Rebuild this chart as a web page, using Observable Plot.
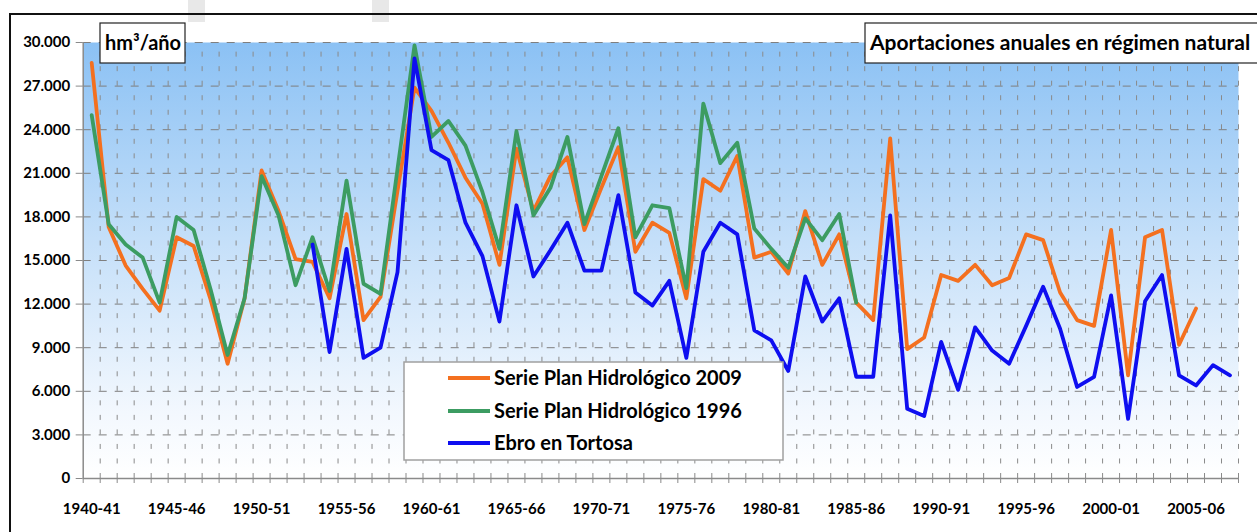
<!DOCTYPE html>
<html>
<head>
<meta charset="utf-8">
<script src="https://cdn.jsdelivr.net/npm/d3@7"></script>
<script src="https://cdn.jsdelivr.net/npm/@observablehq/plot@0.6"></script>
<style>
  html, body { margin: 0; padding: 0; background: #fff; }
  #chart svg { display: block; }
</style>
</head>
<body>
<div id="chart"></div>
<script>
// Hydrological years (categories)
const years = [
  "1940-41","1941-42","1942-43","1943-44","1944-45","1945-46","1946-47","1947-48","1948-49","1949-50",
  "1950-51","1951-52","1952-53","1953-54","1954-55","1955-56","1956-57","1957-58","1958-59","1959-60",
  "1960-61","1961-62","1962-63","1963-64","1964-65","1965-66","1966-67","1967-68","1968-69","1969-70",
  "1970-71","1971-72","1972-73","1973-74","1974-75","1975-76","1976-77","1977-78","1978-79","1979-80",
  "1980-81","1981-82","1982-83","1983-84","1984-85","1985-86","1986-87","1987-88","1988-89","1989-90",
  "1990-91","1991-92","1992-93","1993-94","1994-95","1995-96","1996-97","1997-98","1998-99","1999-00",
  "2000-01","2001-02","2002-03","2003-04","2004-05","2005-06","2006-07","2007-08"
];

// Serie Plan Hidrológico 2009 (hm³/año)
const plan2009 = [
  28600,17300,14650,13050,11550,16600,16000,12300,7900,12400,
  21200,18400,15100,14900,12400,18200,10900,12500,19800,26900,
  25300,23100,20700,18900,14700,22700,18400,20800,22100,17100,
  20000,22800,15600,17600,16900,12400,20600,19800,22200,15200,
  15600,14100,18400,14700,16800,12100,10900,23400,8900,9700,
  14000,13600,14700,13300,13800,16800,16400,12800,10900,10500,
  17100,7100,16600,17100,9200,11700,null,null
];

// Serie Plan Hidrológico 1996 (hm³/año)
const plan1996 = [
  25000,17500,16100,15200,12100,18000,17100,13000,8500,12400,
  20800,18100,13300,16600,12900,20500,13400,12700,21300,29800,
  23500,24600,22900,19700,15800,23900,18100,20000,23500,17500,
  20800,24100,16600,18800,18600,13100,25800,21700,23100,17200,
  15800,14500,17900,16400,18200,12100,null,null,null,null,
  null,null,null,null,null,null,null,null,null,null,
  null,null,null,null,null,null,null,null
];

// Ebro en Tortosa (hm³/año)
const tortosa = [
  null,null,null,null,null,null,null,null,null,null,
  null,null,null,16100,8700,15800,8300,9000,14200,28900,
  22600,21900,17600,15300,10800,18800,13900,15700,17600,14300,
  14300,19500,12800,11900,13600,8300,15600,17600,16800,10200,
  9500,7400,13900,10800,12400,7000,7000,18100,4800,4300,
  9400,6100,10400,8800,7900,10500,13200,10300,6300,7000,
  12600,4100,12200,14000,7100,6400,7800,7100
];

const yTicks = [0,3000,6000,9000,12000,15000,18000,21000,24000,27000,30000];
const xLabelIdx = [0,5,10,15,20,25,30,35,40,45,50,55,60,65];

const seriesNames = ["Serie Plan Hidrológico 2009","Serie Plan Hidrológico 1996","Ebro en Tortosa"];
const seriesColors = ["#f4701f","#3c9c62","#0e0ef0"];

const toRows = arr => arr.map((v, i) => ({i, v}));
const rows2009 = toRows(plan2009);
const rows1996 = toRows(plan1996);
const rowsTortosa = toRows(tortosa);

const bounds = years.map((_, i) => i + 0.5);
const allBounds = [-0.5, ...bounds];
const fmt = d3.formatLocale({decimal: ",", thousands: ".", grouping: [3], currency: ["", "€"]}).format(",");

const FONT = "Lato, 'Liberation Sans', sans-serif";

const chart = Plot.plot({
  width: 1257,
  height: 532,
  marginLeft: 82.7,
  marginRight: 19,
  marginTop: 42,
  marginBottom: 54,
  style: {fontFamily: FONT, fontSize: "15px", fontWeight: "bold", background: "transparent", color: "#000", overflow: "visible"},
  x: {type: "linear", domain: [-0.5, 67.5]},
  y: {domain: [0, 30000]},
  marks: [
    Plot.frame({fill: "url(#bgGrad)", stroke: null}),
    Plot.ruleX(bounds, {y1: 0, y2: 30000, stroke: "#8a8a8a", strokeWidth: 1, strokeDasharray: "5,9.53"}),
    Plot.ruleY(yTicks.slice(1), {stroke: "#7f7f7f", strokeWidth: 1, strokeDasharray: "8,8"}),
    Plot.axisY({ticks: yTicks, tickFormat: fmt, tickSize: 7, tickPadding: 6, stroke: "#8a8a8a", fill: "#000", label: null, fontSize: 15, fontWeight: "bold"}),
    Plot.axisX({ticks: allBounds, tickSize: 5, tickFormat: () => "", stroke: "#8a8a8a", label: null}),
    Plot.axisX({ticks: xLabelIdx, tickSize: 0, tickPadding: 25, tickFormat: i => years[i], fill: "#000", label: null, fontSize: 15, fontWeight: "bold"}),
    Plot.ruleY([0], {stroke: "#8a8a8a", strokeWidth: 1.5}),
    Plot.ruleX([-0.5], {stroke: "#8a8a8a", strokeWidth: 1.5}),
    Plot.line(rows2009, {x: "i", y: "v", stroke: seriesColors[0], strokeWidth: 3.8}),
    Plot.line(rows1996, {x: "i", y: "v", stroke: seriesColors[1], strokeWidth: 3.8}),
    Plot.line(rowsTortosa, {x: "i", y: "v", stroke: seriesColors[2], strokeWidth: 3.8})
  ]
});

document.getElementById("chart").appendChild(chart);

// Decorations: gradient, frame, text boxes, legend
const svg = d3.select(chart);
const defs = svg.insert("defs", ":first-child");
const grad = defs.append("linearGradient").attr("id", "bgGrad").attr("x1", 0).attr("y1", 0).attr("x2", 0).attr("y2", 1);
grad.append("stop").attr("offset", "0%").attr("stop-color", "#8bc1f4");
grad.append("stop").attr("offset", "45%").attr("stop-color", "#c4dff9");
grad.append("stop").attr("offset", "85%").attr("stop-color", "#f3f8fe");
grad.append("stop").attr("offset", "100%").attr("stop-color", "#ffffff");

const deco = svg.append("g").attr("font-family", FONT).attr("font-weight", "bold").attr("text-anchor", "start");

// watermark remnants
svg.insert("rect", "defs + *").attr("x", 188).attr("y", 0).attr("width", 17).attr("height", 22).attr("fill", "#e8e8e8");
svg.insert("rect", "defs + *").attr("x", 372).attr("y", 0).attr("width", 17).attr("height", 22).attr("fill", "#e8e8e8");

// outer frame
deco.append("rect").attr("x", 10).attr("y", 14).attr("width", 1300).attr("height", 600)
  .attr("fill", "none").attr("stroke", "#111").attr("stroke-width", 2);

// unit box
deco.append("rect").attr("x", 100).attr("y", 23).attr("width", 85).attr("height", 40)
  .attr("fill", "#fff").attr("stroke", "#222").attr("stroke-width", 1.2);
deco.append("text").attr("x", 143).attr("y", 50).attr("text-anchor", "middle")
  .attr("font-size", 20).attr("fill", "#000").text("hm³/año");

// title box
deco.append("rect").attr("x", 865).attr("y", 23).attr("width", 400).attr("height", 40)
  .attr("fill", "#fff").attr("stroke", "#222").attr("stroke-width", 1.2);
deco.append("text").attr("x", 870).attr("y", 50).attr("text-anchor", "start")
  .attr("font-size", 21).attr("fill", "#000").text("Aportaciones anuales en régimen natural");

// legend
deco.append("rect").attr("x", 404).attr("y", 362).attr("width", 379).attr("height", 98)
  .attr("fill", "#fff").attr("stroke", "#a0a0a0").attr("stroke-width", 1.5);
const legY = [378, 411, 443];
seriesNames.forEach((name, k) => {
  deco.append("line").attr("x1", 448).attr("x2", 490).attr("y1", legY[k]).attr("y2", legY[k])
    .attr("stroke", seriesColors[k]).attr("stroke-width", 4);
  deco.append("text").attr("x", 494).attr("y", legY[k] + 7).attr("font-size", 20)
    .attr("text-anchor", "start").attr("fill", "#000").text(name);
});
</script>
</body>
</html>
